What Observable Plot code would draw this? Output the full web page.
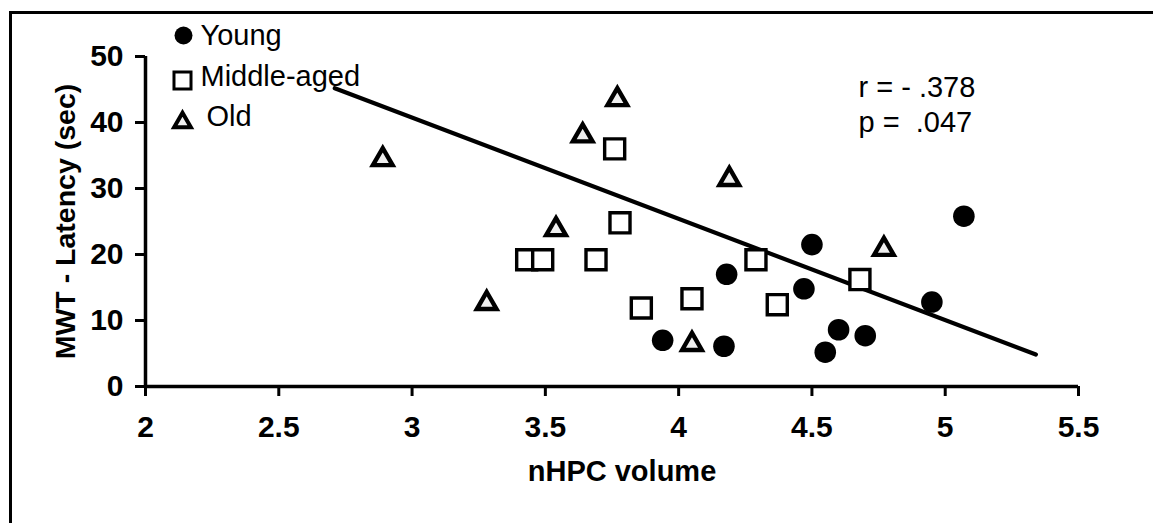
<!DOCTYPE html>
<html>
<head>
<meta charset="utf-8">
<script src="https://cdn.jsdelivr.net/npm/d3@7"></script>
<script src="https://cdn.jsdelivr.net/npm/@observablehq/plot@0.6"></script>
<style>
  body { margin: 0; background: #fff; }
  #wrap { position: relative; width: 1153px; height: 523px; overflow: hidden; background: #fff; }
  #border { position: absolute; left: 9px; top: 11px; right: -5px; bottom: -5px; border-left: 3px solid #000; border-top: 3px solid #000; }
  #chart { position: absolute; left: 0; top: 0; }
  svg text { white-space: pre; }
</style>
</head>
<body>
<div id="wrap"><div id="border"></div><div id="chart"></div></div>
<script>
// ---- data ----
const youngX  = [3.94, 4.17, 4.18, 4.47, 4.50, 4.55, 4.60, 4.70, 4.95, 5.07];
const youngY  = [7.0, 6.1, 17.0, 14.8, 21.5, 5.2, 8.6, 7.7, 12.8, 25.8];
const middleX = [3.43, 3.49, 3.69, 3.76, 3.78, 3.86, 4.05, 4.29, 4.37, 4.68];
const middleY = [19.2, 19.2, 19.2, 36.0, 24.8, 11.9, 13.3, 19.2, 12.4, 16.2];
const oldX    = [2.89, 3.28, 3.54, 3.64, 3.77, 4.05, 4.19, 4.77];
const oldY    = [34.7, 12.9, 24.1, 38.3, 43.8, 6.7, 31.7, 21.1];
const fitX    = [2.71, 5.34];
const fitY    = [45.2, 4.85];
const xTicks  = [2, 2.5, 3, 3.5, 4, 4.5, 5, 5.5];
const yTicks  = [0, 10, 20, 30, 40, 50];
const legendLabels = ["Young", "Middle-aged", "Old"];
const statLines = ["r = - .378", "p =  .047"];
const xLabel = "nHPC volume";
const yLabel = "MWT - Latency (sec)";

const toPts = (xs, ys) => xs.map((x, i) => ({x, y: ys[i]}));
const young = toPts(youngX, youngY);
const middle = toPts(middleX, middleY);
const old = toPts(oldX, oldY);
const fit = toPts(fitX, fitY);

const FONT = "'Liberation Sans', Arial, Helvetica, sans-serif";
const triFill = "#efefef";
const txt = {fontSize: 29, fontWeight: "normal", textAnchor: "start", lineAnchor: "middle", frameAnchor: "top-left"};

const plot = Plot.plot({
  width: 1153,
  height: 523,
  marginLeft: 145,
  marginRight: 75,
  marginTop: 56,
  marginBottom: 137,
  style: {fontFamily: FONT, fontSize: "29px", fontWeight: "bold", background: "transparent", color: "#000"},
  x: {domain: [2, 5.5]},
  y: {domain: [0, 50]},
  marks: [
    Plot.axisX({ticks: xTicks, tickFormat: d => String(d), tickSize: 10, tickPadding: 19, strokeWidth: 3, label: null, fontSize: 30, fontWeight: "bold"}),
    Plot.axisY({ticks: yTicks, tickFormat: d => String(d), tickSize: 10, tickPadding: 12, strokeWidth: 3, label: null, fontSize: 30, fontWeight: "bold"}),
    Plot.ruleY([0], {strokeWidth: 3.5}),
    Plot.ruleX([2], {strokeWidth: 3.5}),
    Plot.text([yLabel], {frameAnchor: "left", dx: -80, rotate: -90, textAnchor: "middle", lineAnchor: "middle", fontSize: 28.5, fontWeight: "bold"}),
    Plot.text([xLabel], {frameAnchor: "bottom", dx: 10, dy: 85, textAnchor: "middle", lineAnchor: "middle", fontSize: 29, fontWeight: "bold"}),
    Plot.line(fit, {x: "x", y: "y", stroke: "#000", strokeWidth: 4.2}),
    Plot.dot(middle, {x: "x", y: "y", symbol: "square", r: 11.3, stroke: "#000", strokeWidth: 3.4, fill: "#fff"}),
    Plot.dot(old, {x: "x", y: "y", symbol: "triangle", r: 7.3, stroke: "#000", strokeWidth: 4.4, fill: triFill, strokeLinejoin: "miter", dy: 2}),
    Plot.dot(young, {x: "x", y: "y", symbol: "circle", r: 10.8, fill: "#000"}),
    // legend
    Plot.dot([legendLabels[0]], {frameAnchor: "top-left", dx: 38, dy: -21, symbol: "circle", r: 9, fill: "#000"}),
    Plot.dot([legendLabels[1]], {frameAnchor: "top-left", dx: 37, dy: 24, symbol: "square", r: 9.6, stroke: "#000", strokeWidth: 3, fill: "#fff"}),
    Plot.dot([legendLabels[2]], {frameAnchor: "top-left", dx: 37, dy: 66, symbol: "triangle", r: 6.2, stroke: "#000", strokeWidth: 4, fill: triFill, strokeLinejoin: "miter"}),
    Plot.text([legendLabels[0]], {...txt, dx: 55, dy: -21}),
    Plot.text([legendLabels[1]], {...txt, dx: 55, dy: 20}),
    Plot.text([legendLabels[2]], {...txt, dx: 61, dy: 60}),
    // statistics annotation
    Plot.text([statLines[0]], {...txt, dx: 713, dy: 31}),
    Plot.text([statLines[1]], {...txt, dx: 713, dy: 66})
  ]
});
document.getElementById("chart").appendChild(plot);
</script>
</body>
</html>
